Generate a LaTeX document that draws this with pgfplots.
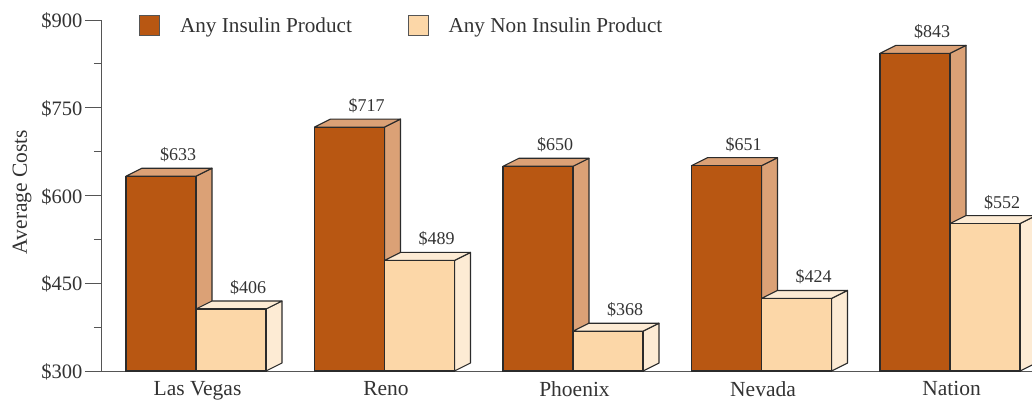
\documentclass[border=0pt]{standalone}
\usepackage{pgfplots}
\pgfplotsset{compat=1.18}
\usepackage{fontspec}
\setmainfont{Liberation Serif}
\definecolor{brownF}{HTML}{B85712}
\definecolor{brownS}{HTML}{DBA176}
\definecolor{lightF}{HTML}{FCD7A8}
\definecolor{lightS}{HTML}{FDEBD4}
\definecolor{edgeC}{HTML}{2B2B2B}
\definecolor{axisC}{HTML}{555555}
\definecolor{textC}{HTML}{333333}
\newcommand{\faces}[4]{% x, value, side colour, bottom lift
  \pgfmathsetmacro{\xa}{#1+70}
  \pgfmathsetmacro{\xb}{#1+86}
  \pgfmathsetmacro{\xc}{#1+16}
  \pgfmathsetmacro{\vb}{#2+13.675}
  \pgfmathsetmacro{\zb}{300+13.675}
  \addplot[forget plot,draw=edgeC,line width=1.1pt,line join=round,fill=#3] coordinates {(\xa,300)(\xb,\zb)(\xb,\vb)(\xa,#2)} --cycle;
  \addplot[forget plot,draw=edgeC,line width=1.1pt,line join=round,fill=#3] coordinates {(#1,#2)(\xc,\vb)(\xb,\vb)(\xa,#2)} --cycle;
}
\begin{document}
\begin{tikzpicture}
\path[use as bounding box] (-102pt,-29pt) rectangle (930pt,371pt);
\begin{axis}[
  at={(0pt,0pt)}, anchor=origin,
  scale only axis, width=930pt, height=351pt,
  xmin=102, xmax=1032, ymin=300, ymax=900,
  axis lines=left, axis line style={-,draw=axisC,line width=1pt},
  xtick={196,384.5,573,761.5,950},
  xticklabels={Las Vegas,Reno,Phoenix,Nevada,Nation},
  ytick={300,450,600,750,900},
  yticklabels={\$300,\$450,\$600,\$750,\$900},
  minor ytick={375,525,675,825},
  major tick length=17pt, minor tick length=8pt,
  tick align=outside,
  ytick style={draw=axisC,line width=1pt},
  minor tick style={draw=axisC,line width=1pt},
  xtick style={draw=none},
  tick label style={font=\fontsize{20.5}{22}\selectfont,text=textC},
  x tick label style={yshift=10pt,xshift=1.5pt,text depth=0pt,font=\fontsize{21.5}{23}\selectfont},
  y tick label style={xshift=1pt,yshift=-1pt},
  ylabel={Average Costs},
  ylabel style={at={(axis description cs:-0.086,0.51)},anchor=center,font=\fontsize{21.5}{23}\selectfont,text=textC},
  legend columns=2,
  legend style={at={(37pt,351pt)},anchor=north west,yshift=5pt,draw=none,fill=none,inner sep=0pt,outer sep=0pt,
    font=\fontsize{21.2}{23}\selectfont,text=textC,
    /tikz/every even column/.append style={column sep=55.5pt},
    nodes={inner sep=0pt}},
  legend cell align=left,
  /pgf/number format/assume math mode=true,
  every node near coord/.append style={font=\fontsize{18}{20}\selectfont,text=textC,anchor=base,inner sep=0pt,xshift=17pt,yshift=15.5pt},
]
\faces{126}{633}{brownS}{}
\faces{314.5}{717}{brownS}{}
\faces{503}{650}{brownS}{}
\faces{691.5}{651}{brownS}{}
\faces{880}{843}{brownS}{}
\addplot[ybar,bar width=70pt,bar shift=0pt,draw=edgeC,line width=1.1pt,fill=brownF,
  nodes near coords={\$\pgfmathprintnumber{\pgfplotspointmeta}},
  legend image code/.code={\draw[draw=axisC,line width=1pt,fill=brownF] (0pt,-10pt) rectangle (20pt,10pt); \path (40pt,0pt);}]
  coordinates {(161,633)(349.5,717)(538,650)(726.5,651)(915,843)};
\addlegendentry{Any Insulin Product}
\faces{196}{406}{lightS}{}
\faces{384.5}{489}{lightS}{}
\faces{573}{368}{lightS}{}
\faces{761.5}{424}{lightS}{}
\faces{950}{552}{lightS}{}
\addplot[ybar,bar width=70pt,bar shift=0pt,draw=edgeC,line width=1.1pt,fill=lightF,
  nodes near coords={\$\pgfmathprintnumber{\pgfplotspointmeta}},
  legend image code/.code={\draw[draw=axisC,line width=1pt,fill=lightF] (0pt,-10pt) rectangle (20pt,10pt); \path (40pt,0pt);}]
  coordinates {(231,406)(419.5,489)(608,368)(796.5,424)(985,552)};
\addlegendentry{Any Non Insulin Product}
\end{axis}
\end{tikzpicture}
\end{document}
